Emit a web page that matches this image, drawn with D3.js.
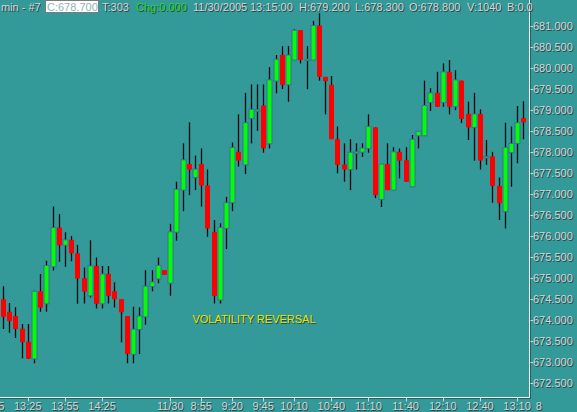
<!DOCTYPE html>
<html><head><meta charset="utf-8">
<script src="https://cdnjs.cloudflare.com/ajax/libs/d3/7.8.5/d3.min.js"></script>
<style>html,body{margin:0;padding:0;background:#339999;overflow:hidden}</style>
</head><body>
<svg id="c" width="577" height="412"></svg>
<script>
const openV=[674.50,674.20,674.10,673.80,673.49,673.08,674.69,674.39,675.27,676.20,675.78,675.91,675.59,675.00,674.58,675.29,674.39,675.10,674.69,674.50,674.10,673.19,673.78,674.08,674.80,674.98,675.19,674.88,676.09,677.09,677.71,677.39,677.71,677.20,676.10,674.48,676.18,676.79,678.00,677.69,678.79,678.99,679.10,678.19,679.68,680.30,679.59,680.18,680.89,680.20,680.18,681.00,679.78,679.59,678.30,677.70,677.58,677.99,677.99,678.08,678.58,676.87,677.71,677.09,678.00,677.80,677.17,678.38,678.38,679.17,679.40,679.17,679.90,679.07,679.69,678.90,678.58,678.90,677.89,677.89,677.19,676.58,677.98,678.20,678.80];
const closeV=[674.08,673.98,673.79,673.48,673.09,674.69,674.30,675.30,676.20,675.78,675.91,675.59,674.99,674.68,675.29,674.39,675.10,674.58,674.50,674.19,673.20,673.79,674.10,674.81,674.91,675.30,675.08,676.10,677.11,677.81,677.58,677.59,677.20,676.18,674.58,676.20,676.79,678.10,677.79,678.69,679.01,679.00,678.08,679.71,680.20,679.59,680.30,680.89,680.18,680.20,681.00,679.78,679.68,678.30,677.69,677.58,677.99,678.00,678.09,678.60,676.97,677.71,677.09,678.00,677.79,677.29,678.30,678.49,679.10,679.40,679.07,679.90,679.07,679.71,678.78,678.58,678.90,677.79,677.89,677.19,676.78,678.10,678.20,678.69,678.70];
const highV=[674.81,674.41,674.31,673.91,673.91,674.70,675.10,675.41,676.70,676.52,676.09,676.00,675.79,675.25,675.90,675.49,675.29,675.29,674.90,674.50,674.10,674.32,674.31,675.19,675.19,675.49,675.19,676.29,677.29,678.20,678.70,677.91,678.08,677.58,676.38,676.30,676.93,678.22,678.89,679.40,679.60,679.60,679.60,680.01,680.30,680.51,680.51,680.91,680.89,680.51,681.11,681.29,679.78,679.80,678.60,678.20,678.30,678.20,678.20,678.89,678.58,677.71,678.20,678.11,678.08,678.11,678.40,678.49,679.69,679.51,679.90,680.10,680.18,679.94,679.69,679.19,679.40,679.01,678.28,678.00,677.39,678.69,678.60,679.09,679.20];
const lowV=[673.79,673.70,673.58,673.10,673.08,672.98,674.20,674.20,675.18,675.39,675.27,675.40,674.39,674.40,674.54,674.28,674.28,674.40,674.30,673.48,672.98,672.98,673.20,673.89,674.69,674.88,675.08,674.58,675.89,676.59,676.97,677.09,676.70,675.98,674.40,674.40,675.69,676.59,677.65,677.47,678.20,678.50,677.98,678.08,679.39,679.49,679.19,680.18,680.10,679.49,680.18,679.69,678.89,678.30,677.49,677.29,677.09,677.58,677.88,677.98,676.90,676.69,677.09,677.09,677.37,677.29,677.17,678.08,678.38,678.97,679.07,679.07,678.89,678.99,678.68,678.28,677.79,677.58,677.69,676.79,676.38,676.18,677.17,677.73,678.30];
const xTickIndex=[-2,4,10,16,27,32,37,42,47,53,59,65,71,77,83,86.5];
const xTickLabels=["12:55","13:25","13:55","14:25","11/30","8:55","9:20","9:45","10:10","10:40","11:10","11:40","12:10","12:40","13:10","8"];
const yTickValues=[672.5,673,673.5,674,674.5,675,675.5,676,676.5,677,677.5,678,678.5,679,679.5,680,680.5,681];
const headerItems=[
 {t:"min - #7",x:1,c:"#d6d6d6"},
 {t:"C:678.700",x:47,c:"#8fb4b4",box:true},
 {t:"T:303",x:102,c:"#d6d6d6"},
 {t:"Chg:0.000",x:136,c:"#22dd22"},
 {t:"11/30/2005",x:193,c:"#d6d6d6"},
 {t:"13:15:00",x:250,c:"#d6d6d6"},
 {t:"H:679.200",x:299,c:"#d6d6d6"},
 {t:"L:678.300",x:355,c:"#d6d6d6"},
 {t:"O:678.800",x:409,c:"#d6d6d6"},
 {t:"V:1040",x:467,c:"#d6d6d6"},
 {t:"B:0.0",x:507,c:"#d6d6d6"}
];
const annotation="VOLATILITY REVERSAL";

const svg=d3.select("#c");
const W=577,H=412, plotR=529.5, plotB=397.5;
const FONT="'Liberation Sans', Arial, sans-serif";
const n=openV.length;
const x=d3.scaleLinear().domain([0,84]).range([3,523.3]);
const y=d3.scaleLinear().domain([672.5,681]).range([383.4,25.5]);

svg.append("rect").attr("width",W).attr("height",H).attr("fill","#339999");

function emb(g,tx,ty,str,col,anchor){
  g.append("text").attr("x",tx+1).attr("y",ty+1).attr("fill","#2c4444").attr("text-anchor",anchor||"start")
   .attr("font-family",FONT).attr("font-size",11).text(str);
  g.append("text").attr("x",tx).attr("y",ty).attr("fill",col).attr("text-anchor",anchor||"start")
   .attr("font-family",FONT).attr("font-size",11).text(str);
}

svg.append("defs").append("clipPath").attr("id","pc").append("rect").attr("x",0).attr("y",0).attr("width",plotR).attr("height",plotB);
const plot=svg.append("g").attr("clip-path","url(#pc)");
const data=d3.range(n).map(i=>({i,o:openV[i],c:closeV[i],h:highV[i],l:lowV[i]}));
plot.selectAll("line.w").data(data).join("line").attr("class","w")
  .attr("x1",d=>Math.round(x(d.i))+0.5).attr("x2",d=>Math.round(x(d.i))+0.5)
  .attr("y1",d=>y(d.h)).attr("y2",d=>y(d.l)).attr("stroke","#0a0a0a").attr("stroke-width",1.3);
plot.selectAll("rect.b").data(data).join("rect").attr("class","b")
  .attr("x",d=>Math.round(x(d.i))-2)
  .attr("width",5)
  .attr("y",d=>y(Math.max(d.o,d.c)))
  .attr("height",d=>Math.max(1.5,Math.abs(y(d.o)-y(d.c))))
  .attr("fill",d=>d.c>=d.o?"#00ff00":"#ff0000")
  .attr("stroke",d=>d.c>=d.o?"#3f6f9a":"none")
  .attr("stroke-width",1);

svg.append("line").attr("x1",plotR).attr("x2",plotR).attr("y1",0).attr("y2",plotB).attr("stroke","#f0f0f0").attr("stroke-width",1);
svg.append("line").attr("x1",0).attr("x2",plotR).attr("y1",plotB).attr("y2",plotB).attr("stroke","#f0f0f0").attr("stroke-width",1);
svg.append("line").attr("x1",plotR+1).attr("x2",plotR+1).attr("y1",0).attr("y2",plotB+1).attr("stroke","#2c5c5c").attr("stroke-width",1);
svg.append("line").attr("x1",0).attr("x2",plotR+1).attr("y1",plotB+1).attr("y2",plotB+1).attr("stroke","#2c5c5c").attr("stroke-width",1);

const ya=svg.append("g");
yTickValues.forEach(v=>{
  const yy=y(v);
  ya.append("line").attr("x1",plotR+1).attr("x2",533).attr("y1",Math.round(yy)+0.5).attr("y2",Math.round(yy)+0.5).attr("stroke","#d6d6d6");
  emb(ya,533,Math.round(yy)+4,d3.format(".3f")(v),"#d6d6d6");
});
const xa=svg.append("g");
xTickIndex.forEach((t,k)=>{
  const xx=Math.round(x(t))+0.5;
  if(xTickLabels[k].length>1) xa.append("line").attr("x1",xx).attr("x2",xx).attr("y1",plotB).attr("y2",plotB+4).attr("stroke","#d6d6d6");
  emb(xa,x(t),409.5,xTickLabels[k],"#d6d6d6","middle");
});

emb(svg,254,323,annotation,"#e8e800","middle");

const hd=svg.append("g");
headerItems.forEach(it=>{
  if(it.box){
    hd.append("rect").attr("x",45.5).attr("y",0.5).attr("width",53).attr("height",12).attr("fill","#ffffff").attr("stroke","#7a7a7a");
    hd.append("text").attr("x",it.x).attr("y",11).attr("fill",it.c).attr("font-family",FONT).attr("font-size",11).text(it.t);
  } else {
    emb(hd,it.x,11,it.t,it.c);
  }
});
</script>
</body></html>
